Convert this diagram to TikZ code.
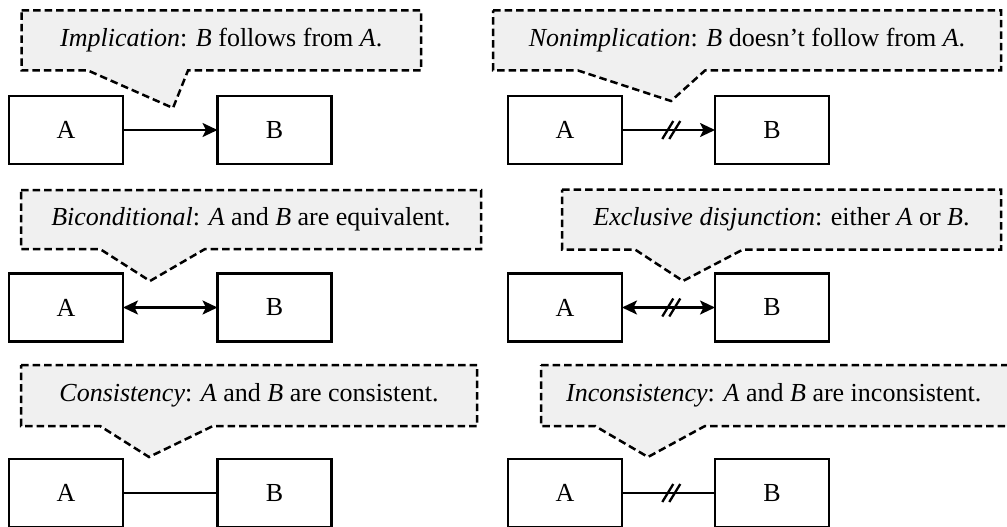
\documentclass[tikz,border=0pt]{standalone}
\usepackage{fontspec}
\setmainfont{Liberation Serif}
\usetikzlibrary{arrows.meta}
\begin{document}
\begin{tikzpicture}[x=1pt,y=-1pt,
  >={Stealth[length=15pt,width=14pt,inset=3.5pt]},
  box/.style={draw, line width=2.6pt, minimum width=114pt, minimum height=68pt,
    inner sep=0pt, outer sep=0pt, font=\fontsize{26}{30}\selectfont},
  bubble/.style={draw, dash pattern=on 7.5pt off 4pt, line width=2.5pt,
    fill=black!6, line join=miter},
  caption/.style={font=\fontsize{26}{30}\selectfont, inner sep=0pt},
  link/.style={line width=2.5pt},
  notmark/.pic={\draw[-, line width=2.3pt] (-9,9) -- (2,-9) (-2,9) -- (9,-9);}
]
\useasboundingbox (0,0) rectangle (1007,527);
\clip (0,0) rectangle (1007,527);

% speech bubbles: rectangle with a pointer on the lower edge
\draw[bubble] (21.5,10.5) -- (421,10.5) -- (421,70.5) -- (188,70.5) -- (173,108) -- (88,70.5) -- (21.5,70.5) -- cycle;
\draw[bubble] (493,10.5) -- (1001,10.5) -- (1001,70.5) -- (705,70.5) -- (671,101) -- (578,70.5) -- (493,70.5) -- cycle;
\draw[bubble] (21,190) -- (481,190) -- (481,249) -- (205,249) -- (150,281) -- (100,249) -- (21,249) -- cycle;
\draw[bubble] (562,189.5) -- (1001,189.5) -- (1001,249.5) -- (743,249.5) -- (683,281) -- (635,249.5) -- (562,249.5) -- cycle;
\draw[bubble] (21,365) -- (477,365) -- (477,426) -- (213,426) -- (149,457) -- (100,426) -- (21,426) -- cycle;
\draw[bubble] (541,365) -- (1030,365) -- (1030,426) -- (705,426) -- (648,457) -- (595,426) -- (541,426) -- cycle;

\node[caption] (c1) at (221.25,40.5) {\textit{Implication}: \textit{B} follows from \textit{A}.};
\node[caption] (c2) at (747,40.5) {\textit{Nonimplication}: \textit{B} doesn’t follow from \textit{A}.};
\node[caption] (c3) at (251,219.5) {\textit{Biconditional}: \textit{A} and \textit{B} are equivalent.};
\node[caption] (c4) at (781.5,219.5) {\textit{Exclusive disjunction}: either \textit{A} or \textit{B}.};
\node[caption] (c5) at (249,395.5) {\textit{Consistency}: \textit{A} and \textit{B} are consistent.};
\node[caption, anchor=west] (c6) at (566,395.5) {\textit{Inconsistency}: \textit{A} and \textit{B} are inconsistent.};

% boxes
\node[box] (a1) at (66,130) {A};
\node[box] (b1) at (274.5,130) {B};
\node[box] (a2) at (565,130) {A};
\node[box] (b2) at (772,130) {B};
\node[box] (a3) at (66,307.5) {A};
\node[box] (b3) at (274.5,307.5) {B};
\node[box] (a4) at (565,307.5) {A};
\node[box] (b4) at (772,307.5) {B};
\node[box] (a5) at (66,493) {A};
\node[box] (b5) at (274.5,493) {B};
\node[box] (a6) at (565,493) {A};
\node[box] (b6) at (772,493) {B};

% connectors
\draw[link,->] (a1) -- (b1);
\draw[link,->] (a2) -- (b2) pic[pos=0.53] {notmark};
\draw[link,<->] (a3) -- (b3);
\draw[link,<->] (a4) -- (b4) pic[pos=0.53] {notmark};
\draw[link] (a5) -- (b5);
\draw[link] (a6) -- (b6) pic[pos=0.53] {notmark};
\end{tikzpicture}
\end{document}
